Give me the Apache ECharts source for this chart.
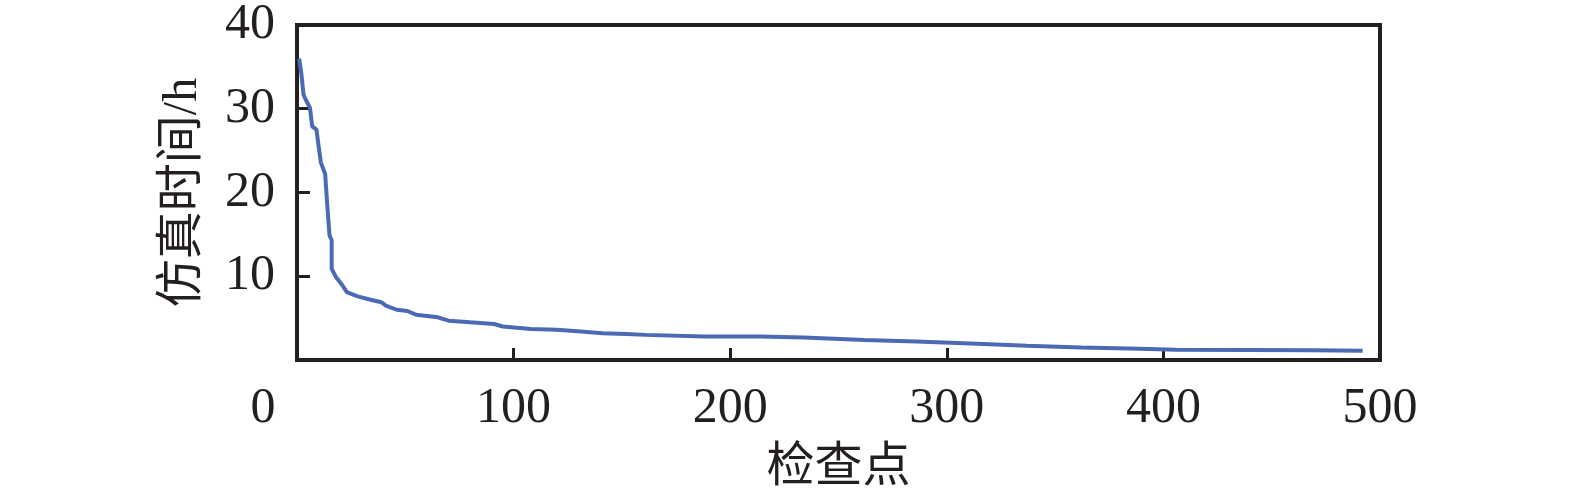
<!DOCTYPE html>
<html>
<head>
<meta charset="utf-8">
<script src="https://cdn.jsdelivr.net/npm/echarts@6/dist/echarts.min.js"></script>
<style>
html,body{margin:0;padding:0;background:#fff;}
#chart{width:1575px;height:497px;}
</style>
</head>
<body>
<div id="chart"></div>
<script>
// Data
const checkpoints = [1,2,3,4,6,7,9,10,11,13,14,15,16,16,18,21,23,28,34,39,41,46,51,55,65,70,80,91,95,108,120,131,141,152,161,188,214,234,262,286,314,337,362,389,406,440,468,492];
const simTime = [36.0,34.2,31.7,31.1,30.1,27.9,27.5,25.5,23.6,22.2,18.4,14.9,14.3,10.9,9.9,8.9,8.1,7.6,7.2,6.9,6.5,6.0,5.85,5.4,5.1,4.7,4.5,4.3,4.0,3.7,3.6,3.4,3.2,3.1,3.0,2.8,2.8,2.7,2.4,2.2,1.93,1.7,1.5,1.34,1.22,1.2,1.15,1.1];
const xTitle = '检查点';
const yTitle = '仿真时间/h';

const ink = '#231f20';
const serif = "'Liberation Serif', 'Noto Sans CJK SC', serif";
const chart = echarts.init(document.getElementById('chart'), null, {renderer: 'canvas'});
chart.setOption({
  animation: false,
  backgroundColor: '#ffffff',
  grid: {left: 297, right: 195, top: 25, bottom: 135, show: true, borderColor: ink, borderWidth: 4, containLabel: false},
  xAxis: {
    type: 'value', min: 0, max: 500, interval: 100,
    name: xTitle, nameLocation: 'middle', nameGap: 84,
    nameTextStyle: {fontFamily: serif, fontSize: 48, color: ink, verticalAlign: 'top'},
    axisLine: {show: true, lineStyle: {color: ink, width: 4}},
    axisTick: {show: true, inside: true, length: 12, lineStyle: {color: ink, width: 3}},
    splitLine: {show: false},
    axisLabel: {
      margin: 24, fontFamily: serif, fontSize: 50, color: ink,
      formatter: function (v) { return v === 0 ? '{z|0}' : String(v); },
      rich: {z: {fontFamily: serif, fontSize: 50, color: ink, padding: [0, 68, 0, 0]}}
    }
  },
  yAxis: {
    type: 'value', min: 0, max: 40, interval: 10,
    name: yTitle, nameLocation: 'middle', nameGap: 90, nameRotate: 90,
    nameTextStyle: {fontFamily: serif, fontSize: 48, color: ink},
    axisLine: {show: true, lineStyle: {color: ink, width: 4}},
    axisTick: {show: true, inside: true, length: 13, lineStyle: {color: ink, width: 3}},
    splitLine: {show: false},
    axisLabel: {margin: 22, fontFamily: serif, fontSize: 50, color: ink, showMinLabel: false,
      formatter: function (v) { return v === 0 ? '' : String(v); }}
  },
  series: [{
    type: 'line',
    data: checkpoints.map((c, i) => [c, simTime[i]]),
    showSymbol: false,
    lineStyle: {color: '#4a6ab5', width: 4},
    itemStyle: {color: '#4a6ab5'}
  }]
});
</script>
</body>
</html>
